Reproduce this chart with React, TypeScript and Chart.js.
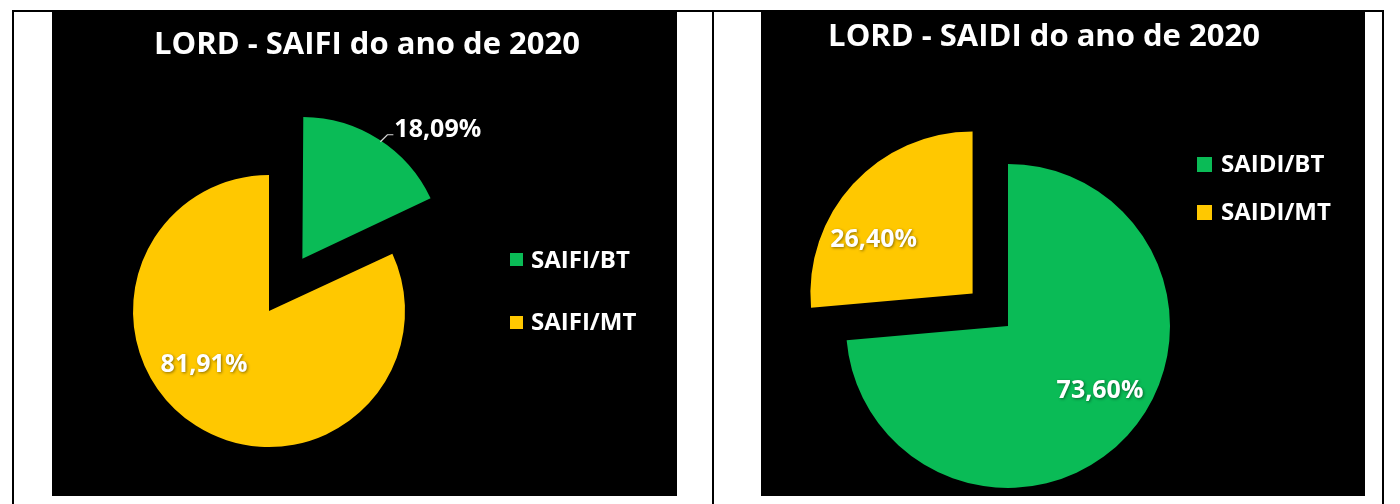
import React, { useEffect, useRef } from "react";
import { Chart, registerables } from "chart.js";

Chart.register(...registerables);

// ---------------- data ----------------
const saifiTitle = "LORD - SAIFI do ano de 2020";
const saifiCategories = ["SAIFI/BT", "SAIFI/MT"];
const saifiValues = [18.09, 81.91];

const saidiTitle = "LORD - SAIDI do ano de 2020";
const saidiCategories = ["SAIDI/BT", "SAIDI/MT"];
const saidiValues = [73.6, 26.4];

const GREEN = "#0ABB56";
const YELLOW = "#FFC800";
const sliceColors = [GREEN, YELLOW];

const FONT = "'Open Sans', 'DejaVu Sans', sans-serif";
const fmtPct = (v: number) => v.toFixed(2).replace(".", ",") + "%";

type LabelStyle = {
  dx: number;
  dy: number;
  align: CanvasTextAlign;
  leader?: [number, number][];
};

type PieSpec = {
  left: number;
  top: number;
  width: number;
  height: number;
  padding: { left: number; right: number; top: number; bottom: number };
  radius: number;
  explode: number[];
  labelStyles: LabelStyle[];
  labelSize: number;
};

const saifiSpec: PieSpec = {
  left: 52,
  top: 12,
  width: 625,
  height: 484,
  padding: { left: 0, right: 191, top: 114, bottom: 0 },
  radius: 136,
  explode: [62, 0],
  labelStyles: [
    { dx: 92, dy: -131, align: "left", leader: [[78, -117], [85, -124], [91, -124]] },
    { dx: -65, dy: 52, align: "center" },
  ],
  labelSize: 25,
};

const saidiSpec: PieSpec = {
  left: 761,
  top: 12,
  width: 604,
  height: 484,
  padding: { left: 0, right: 110, top: 144, bottom: 0 },
  radius: 162,
  explode: [0, 48],
  labelStyles: [
    { dx: 92, dy: 63, align: "center" },
    { dx: -99, dy: -56, align: "center" },
  ],
  labelSize: 25,
};

function PieCanvas({ values, categories, spec }: { values: number[]; categories: string[]; spec: PieSpec }) {
  const ref = useRef<HTMLCanvasElement | null>(null);
  useEffect(() => {
    const canvas = ref.current;
    if (!canvas) return;
    const labelPlugin = {
      id: "sliceLabels",
      afterDatasetsDraw(chart: any) {
        const ctx: CanvasRenderingContext2D = chart.ctx;
        const meta = chart.getDatasetMeta(0);
        meta.data.forEach((arc: any, i: number) => {
          const p = arc.getProps(["x", "y", "startAngle", "endAngle"], true);
          const mid = (p.startAngle + p.endAngle) / 2;
          const shift = (arc.options.offset || 0) / 4;
          const cx = p.x + Math.cos(mid) * shift;
          const cy = p.y + Math.sin(mid) * shift;
          const st = spec.labelStyles[i];
          ctx.save();
          if (st.leader) {
            ctx.beginPath();
            st.leader.forEach(([lx, ly], k) => {
              if (k === 0) ctx.moveTo(cx + lx, cy + ly);
              else ctx.lineTo(cx + lx, cy + ly);
            });
            ctx.strokeStyle = "#d8d8d8";
            ctx.lineWidth = 1.2;
            ctx.stroke();
          }
          ctx.font = `bold ${spec.labelSize}px ${FONT}`;
          ctx.fillStyle = "#ffffff";
          ctx.textAlign = st.align;
          ctx.textBaseline = "alphabetic";
          ctx.shadowColor = "rgba(0,0,0,0.45)";
          ctx.shadowBlur = 3;
          ctx.shadowOffsetX = 1;
          ctx.shadowOffsetY = 1;
          ctx.fillText(fmtPct(values[i]), cx + st.dx, cy + st.dy + 0.357 * spec.labelSize);
          ctx.restore();
        });
      },
    };
    const chart = new Chart(canvas, {
      type: "pie",
      data: {
        labels: categories,
        datasets: [
          {
            data: values,
            backgroundColor: sliceColors,
            borderWidth: 0,
            offset: spec.explode.map((e) => e * 4),
            radius: spec.radius,
            clip: false,
          } as any,
        ],
      },
      options: {
        animation: false,
        responsive: false,
        maintainAspectRatio: false,
        events: [],
        layout: { padding: spec.padding },
        plugins: {
          legend: { display: false },
          title: { display: false },
          tooltip: { enabled: false },
        },
      } as any,
      plugins: [labelPlugin],
    });
    return () => chart.destroy();
  }, []);
  return (
    <canvas
      ref={ref}
      width={spec.width}
      height={spec.height}
      style={{ position: "absolute", left: spec.left, top: spec.top, width: spec.width, height: spec.height }}
    />
  );
}

function Title({ text, cx, capCenter, size }: { text: string; cx: number; capCenter: number; size: number }) {
  // Open Sans: ascent 1.069, descent 0.293, cap 0.714
  const baselineInBox = (size - 1.362 * size) / 2 + 1.069 * size;
  const top = capCenter + 0.357 * size - baselineInBox;
  return (
    <div
      style={{
        position: "absolute",
        left: cx,
        top,
        transform: "translateX(-50%)",
        whiteSpace: "nowrap",
        font: `bold ${size}px ${FONT}`,
        lineHeight: `${size}px`,
        color: "#ffffff",
      }}
    >
      {text}
    </div>
  );
}

function LegendItem({
  text, color, boxLeft, boxSize, textLeft, cy, size,
}: { text: string; color: string; boxLeft: number; boxSize: number; textLeft: number; cy: number; size: number }) {
  const baselineInBox = (size - 1.362 * size) / 2 + 1.069 * size;
  const top = cy + 0.357 * size - baselineInBox;
  return (
    <>
      <div
        style={{
          position: "absolute",
          left: boxLeft,
          top: cy - boxSize / 2,
          width: boxSize,
          height: boxSize,
          background: color,
        }}
      />
      <div
        style={{
          position: "absolute",
          left: textLeft,
          top,
          whiteSpace: "nowrap",
          font: `bold ${size}px ${FONT}`,
          lineHeight: `${size}px`,
          color: "#ffffff",
        }}
      >
        {text}
      </div>
    </>
  );
}

export default function App() {
  const line = (l: number, t: number, w: number, h: number) => (
    <div style={{ position: "absolute", left: l, top: t, width: w, height: h, background: "#000" }} />
  );
  return (
    <div style={{ position: "fixed", left: 0, top: 0, width: 1400, height: 504, background: "#fff", overflow: "hidden" }}>
      {line(12, 10, 1372, 2)}
      {line(12, 10, 2, 494)}
      {line(712, 10, 2, 494)}
      {line(1382, 10, 2, 494)}
      <div style={{ position: "absolute", left: 52, top: 12, width: 625, height: 484, background: "#000" }} />
      <div style={{ position: "absolute", left: 761, top: 12, width: 604, height: 484, background: "#000" }} />

      <PieCanvas values={saifiValues} categories={saifiCategories} spec={saifiSpec} />
      <PieCanvas values={saidiValues} categories={saidiCategories} spec={saidiSpec} />

      <Title text={saifiTitle} cx={367} capCenter={43} size={31} />
      <Title text={saidiTitle} cx={1044} capCenter={35} size={31} />

      <LegendItem text={saifiCategories[0]} color={GREEN} boxLeft={510} boxSize={13} textLeft={531} cy={259.5} size={24} />
      <LegendItem text={saifiCategories[1]} color={YELLOW} boxLeft={510} boxSize={13} textLeft={531} cy={322} size={24} />

      <LegendItem text={saidiCategories[0]} color={GREEN} boxLeft={1197} boxSize={15} textLeft={1221} cy={164} size={24} />
      <LegendItem text={saidiCategories[1]} color={YELLOW} boxLeft={1197} boxSize={15} textLeft={1221} cy={212} size={24} />
    </div>
  );
}
